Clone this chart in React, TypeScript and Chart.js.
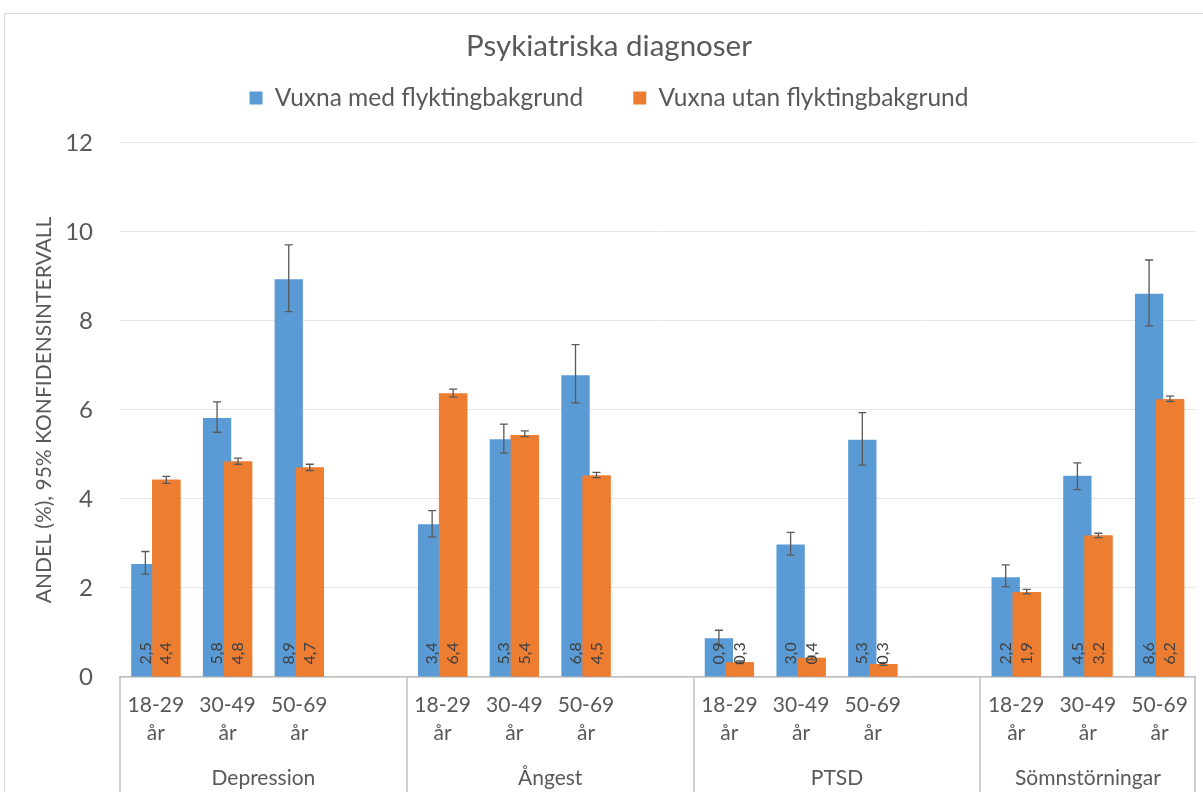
import React, { useEffect, useRef } from "react";
import { Chart, registerables } from "chart.js";

Chart.register(...registerables);

const TITLE = "Psykiatriska diagnoser";
const Y_TITLE = "ANDEL (%), 95% KONFIDENSINTERVALL";
const SERIES_NAMES = ["Vuxna med flyktingbakgrund", "Vuxna utan flyktingbakgrund"];
const GROUPS = ["Depression", "Ångest", "PTSD", "Sömnstörningar"];
const AGE_LABELS = [["18-29", "år"], ["30-49", "år"], ["50-69", "år"]];

// Values per group, in order Depression, Ångest, PTSD, Sömnstörningar (3 age groups each)
const WITH_VALUES = [2.54, 5.82, 8.94, 3.43, 5.34, 6.78, 0.87, 2.98, 5.33, 2.24, 4.52, 8.61];
const WITH_LOW = [2.31, 5.5, 8.21, 3.15, 5.03, 6.16, 0.72, 2.74, 4.76, 2.03, 4.21, 7.89];
const WITH_HIGH = [2.82, 6.18, 9.71, 3.74, 5.68, 7.47, 1.05, 3.25, 5.94, 2.52, 4.81, 9.37];

const WITHOUT_VALUES = [4.43, 4.84, 4.71, 6.37, 5.44, 4.53, 0.33, 0.43, 0.29, 1.91, 3.18, 6.24];
const WITHOUT_LOW = [4.35, 4.78, 4.64, 6.29, 5.4, 4.48, 0.3, 0.39, 0.26, 1.87, 3.13, 6.19];
const WITHOUT_HIGH = [4.51, 4.92, 4.78, 6.47, 5.53, 4.6, 0.36, 0.47, 0.32, 1.97, 3.23, 6.31];

const Y_MIN = 0;
const Y_MAX = 12;
const Y_STEP = 2;

const COLORS = ["#5B9BD5", "#ED7D31"];
const TEXT = "#595959";
const FONT = "Lato, 'Open Sans', sans-serif";

// Build category slots: 3 ages per group plus one blank slot between groups
function buildSlots() {
  const labels: (string | string[])[] = [];
  const groupOfSlot: number[] = [];
  const valueIndex: (number | null)[] = [];
  GROUPS.forEach((_, g) => {
    AGE_LABELS.forEach((a, k) => {
      labels.push(a);
      groupOfSlot.push(g);
      valueIndex.push(g * AGE_LABELS.length + k);
    });
    if (g < GROUPS.length - 1) {
      labels.push("");
      groupOfSlot.push(g);
      valueIndex.push(null);
    }
  });
  return { labels, groupOfSlot, valueIndex };
}

const SLOTS = buildSlots();
const pick = (arr: number[]) => SLOTS.valueIndex.map((i) => (i === null ? null : arr[i]));

const ERRORS = [
  { low: pick(WITH_LOW), high: pick(WITH_HIGH) },
  { low: pick(WITHOUT_LOW), high: pick(WITHOUT_HIGH) },
];

const fmt = (v: number) => v.toFixed(1).replace(".", ",");

const drawPlugin = {
  id: "custom",
  beforeDraw(chart: any) {
    const ctx = chart.ctx;
    ctx.save();
    ctx.fillStyle = "#ffffff";
    ctx.fillRect(0, 0, chart.width, chart.height);
    ctx.strokeStyle = "#d9d9d9";
    ctx.lineWidth = 1;
    ctx.strokeRect(4.5, 13.5, chart.width + 50, chart.height + 50);
    ctx.restore();
  },
  afterDatasetsDraw(chart: any) {
    const ctx = chart.ctx;
    // draw second series on top of the first
    chart.getDatasetMeta(1).controller.draw();
    const y = chart.scales.y;
    // error bars
    ctx.save();
    ctx.strokeStyle = "#595959";
    ctx.lineWidth = 1.3;
    [0, 1].forEach((d) => {
      const meta = chart.getDatasetMeta(d);
      meta.data.forEach((el: any, i: number) => {
        const lo = ERRORS[d].low[i];
        const hi = ERRORS[d].high[i];
        if (lo === null || hi === null) return;
        const x = el.x;
        const y1 = y.getPixelForValue(lo);
        const y2 = y.getPixelForValue(hi);
        ctx.beginPath();
        ctx.moveTo(x, y1);
        ctx.lineTo(x, y2);
        ctx.moveTo(x - 4, y1);
        ctx.lineTo(x + 4, y1);
        ctx.moveTo(x - 4, y2);
        ctx.lineTo(x + 4, y2);
        ctx.stroke();
      });
    });
    // value labels
    ctx.fillStyle = "#404040";
    ctx.font = `16px ${FONT}`;
    ctx.textAlign = "left";
    ctx.textBaseline = "middle";
    [0, 1].forEach((d) => {
      const meta = chart.getDatasetMeta(d);
      const data = chart.data.datasets[d].data;
      meta.data.forEach((el: any, i: number) => {
        const v = data[i];
        if (v === null || v === undefined) return;
        ctx.save();
        ctx.translate(el.x, el.base - 12);
        ctx.rotate(-Math.PI / 2);
        ctx.fillText(fmt(v), 0, 0);
        ctx.restore();
      });
    });
    ctx.restore();
  },
  afterDraw(chart: any) {
    const ctx = chart.ctx;
    const x = chart.scales.x;
    const area = chart.chartArea;
    const n = SLOTS.labels.length;
    const step = (x.getPixelForValue(1) - x.getPixelForValue(0));
    const edge = (i: number) => x.getPixelForValue(i) - step / 2;
    // group boundaries
    const bounds: number[] = [0];
    for (let i = 1; i < n; i++) {
      if (SLOTS.groupOfSlot[i] !== SLOTS.groupOfSlot[i - 1]) bounds.push(i);
    }
    bounds.push(n);
    ctx.save();
    ctx.strokeStyle = "#bfbfbf";
    ctx.lineWidth = 1.5;
    bounds.forEach((b) => {
      const px = Math.round(edge(b));
      ctx.beginPath();
      ctx.moveTo(px, area.bottom);
      ctx.lineTo(px, chart.height);
      ctx.stroke();
    });
    ctx.fillStyle = TEXT;
    ctx.font = `21px ${FONT}`;
    ctx.textAlign = "center";
    ctx.textBaseline = "middle";
    for (let g = 0; g < GROUPS.length; g++) {
      const cx = (edge(bounds[g]) + edge(bounds[g + 1])) / 2;
      ctx.fillText(GROUPS[g], cx, 778);
    }
    ctx.restore();
  },
};

export default function App() {
  const ref = useRef<HTMLCanvasElement | null>(null);
  useEffect(() => {
    if (!ref.current) return;
    const chart = new Chart(ref.current, {
      type: "bar",
      data: {
        labels: SLOTS.labels,
        datasets: [
          {
            label: SERIES_NAMES[0],
            data: pick(WITH_VALUES),
            backgroundColor: COLORS[0],
            borderWidth: 0,
          },
          {
            label: SERIES_NAMES[1],
            data: pick(WITHOUT_VALUES),
            backgroundColor: COLORS[1],
            borderWidth: 0,
          },
        ],
      },
      options: {
        responsive: false,
        animation: false,
        maintainAspectRatio: false,
        categoryPercentage: 0.585,
        barPercentage: 1.35,
        layout: { padding: { left: 20, right: 5, top: 0, bottom: 0 } },
        plugins: {
          title: {
            display: true,
            text: TITLE,
            color: TEXT,
            font: { family: FONT, size: 29.5, weight: "normal" },
            padding: { top: 28.3, bottom: -28 },
          },
          legend: {
            display: true,
            position: "top",
            labels: {
              color: TEXT,
              font: { family: FONT, size: 24.5 },
              boxWidth: 13,
              boxHeight: 13,
              padding: 50,
            },
          },
          tooltip: { enabled: false },
        },
        scales: {
          x: {
            type: "category",
            offset: true,
            grid: { display: false, drawTicks: false },
            border: { display: true, color: "#bfbfbf", width: 1.5 },
            ticks: {
              autoSkip: false,
              maxRotation: 0,
              minRotation: 0,
              color: TEXT,
              padding: 15,
              font: { family: FONT, size: 21, lineHeight: 1.3 },
            },
            afterFit(scale: any) {
              scale.height = 115;
            },
          },
          y: {
            min: Y_MIN,
            max: Y_MAX,
            ticks: {
              stepSize: Y_STEP,
              color: TEXT,
              padding: 27,
              font: { family: FONT, size: 24 },
            },
            grid: { color: "#e6e6e6", drawTicks: false },
            border: { display: false },
            title: {
              display: true,
              text: Y_TITLE,
              color: TEXT,
              font: { family: FONT, size: 21 },
              padding: { top: 12 },
            },
            afterFit(scale: any) {
              scale.width = 100;
            },
          },
        },
      },
      plugins: [
        drawPlugin,
        {
          id: "legendSpacing",
          beforeInit(chart: any) {
            const legend = chart.legend;
            if (!legend) return;
            const orig = legend.fit;
            legend.fit = function () {
              orig.call(this);
              this.height += 22.75;
            };
          },
        },
      ],
    });
    return () => chart.destroy();
  }, []);
  return (
    <div style={{ position: "fixed", left: 0, top: 0, width: 1203, height: 792, overflow: "hidden", background: "#fff" }}>
      <canvas ref={ref} width={1203} height={792} style={{ width: 1203, height: 792, display: "block" }} />
    </div>
  );
}
